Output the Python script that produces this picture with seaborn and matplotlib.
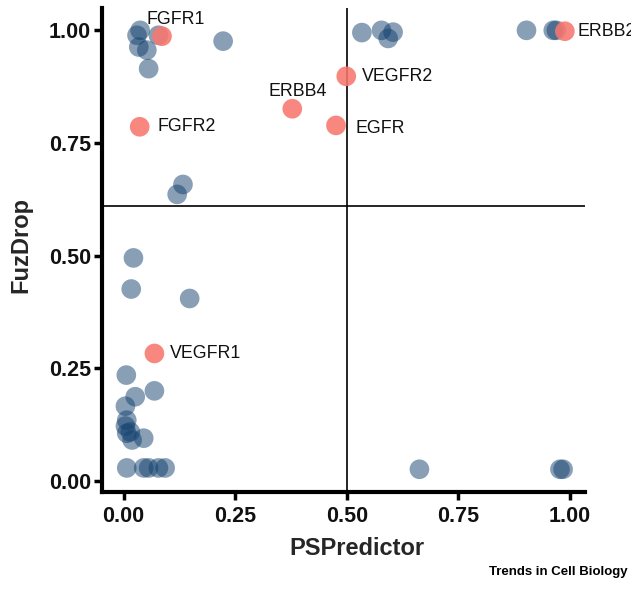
import pandas as pd
import matplotlib.pyplot as plt
import seaborn as sns

# unlabelled proteins (PSPredictor score, FuzDrop score)
blue_x = [0.030, 0.037, 0.034, 0.052, 0.056, 0.078, 0.223,
          0.534, 0.578, 0.604, 0.593, 0.903, 0.963, 0.970,
          0.133, 0.120, 0.022, 0.017, 0.148,
          0.006, 0.069, 0.026, 0.004, 0.007, 0.004, 0.015, 0.007, 0.045, 0.019,
          0.007, 0.045, 0.056, 0.078, 0.093,
          0.663, 0.978, 0.985]
blue_y = [0.989, 1.000, 0.963, 0.956, 0.915, 0.989, 0.976,
          0.995, 1.000, 0.996, 0.982, 1.000, 1.000, 1.000,
          0.658, 0.636, 0.495, 0.426, 0.405,
          0.235, 0.200, 0.187, 0.166, 0.135, 0.122, 0.109, 0.106, 0.095, 0.091,
          0.029, 0.029, 0.029, 0.029, 0.029,
          0.026, 0.026, 0.026]

# labelled receptor tyrosine kinases
red_names = ["FGFR1", "FGFR2", "ERBB4", "VEGFR2", "EGFR", "ERBB2", "VEGFR1"]
red_x = [0.086, 0.036, 0.378, 0.499, 0.476, 0.989, 0.069]
red_y = [0.987, 0.786, 0.826, 0.898, 0.789, 0.998, 0.283]

df = pd.DataFrame({
    "PSPredictor": blue_x + red_x,
    "FuzDrop": blue_y + red_y,
    "group": ["other"] * len(blue_x) + ["RTK"] * len(red_x),
})

sns.set_style("ticks")
plt.rcParams["font.family"] = ["Liberation Sans", "DejaVu Sans"]

fig = plt.figure(figsize=(6.31, 5.89), dpi=100)
ax = fig.add_axes([0.162, 0.165, 0.765, 0.821])

ax.axvline(0.5, color="black", lw=1.2, zorder=1)
ax.axhline(0.611, color="black", lw=1.2, zorder=1)

sns.scatterplot(data=df, x="PSPredictor", y="FuzDrop", hue="group",
                palette={"other": "#12406e", "RTK": "#F8766D"},
                s=200, linewidth=0, legend=False, ax=ax, zorder=3)
# seaborn sets one alpha; set per group
pts = ax.collections[0]
fc = pts.get_facecolors()
fc[:len(blue_x), 3] = 0.5
fc[len(blue_x):, 3] = 0.88
pts.set_facecolors(fc)

# label placement (offset in points, alignment)
offsets = {
    "FGFR1": (10, 6, "center", "bottom"),
    "FGFR2": (13, 0, "left", "center"),
    "ERBB4": (4, 6, "center", "bottom"),
    "VEGFR2": (11, 0, "left", "center"),
    "EGFR": (14, -2, "left", "center"),
    "ERBB2": (9, 0, "left", "center"),
    "VEGFR1": (11, 0, "left", "center"),
}
for name, x, y in zip(red_names, red_x, red_y):
    dx, dy, ha, va = offsets[name]
    ax.annotate(name, (x, y), xytext=(dx, dy), textcoords="offset points",
                ha=ha, va=va, fontsize=12.8, color="#111111", zorder=4)

ax.set_xlim(-0.048, 1.034)
ax.set_ylim(-0.024, 1.049)
ax.set_xticks([0, 0.25, 0.5, 0.75, 1.0])
ax.set_yticks([0, 0.25, 0.5, 0.75, 1.0])
ax.set_xticklabels(["0.00", "0.25", "0.50", "0.75", "1.00"])
ax.set_yticklabels(["0.00", "0.25", "0.50", "0.75", "1.00"])
ax.tick_params(axis="both", width=2.5, length=6, labelsize=15.5, color="black",
               labelcolor="#111111")
ax.tick_params(axis="x", pad=4)
ax.tick_params(axis="y", pad=2)
for lab in ax.get_xticklabels() + ax.get_yticklabels():
    lab.set_fontweight("bold")
for side in ["left", "bottom"]:
    ax.spines[side].set_linewidth(3)
    ax.spines[side].set_color("black")
sns.despine(ax=ax)

ax.set_xlabel("PSPredictor", fontsize=17, fontweight="bold")
ax.set_ylabel("FuzDrop", fontsize=17, fontweight="bold")
ax.xaxis.set_label_coords(0.528, -0.094)
ax.yaxis.set_label_coords(-0.145, 0.51)

fig.text(0.995, 0.018, "Trends in Cell Biology", ha="right", va="bottom",
         fontsize=9.5, fontweight="heavy", color="black")

plt.savefig("out.png", dpi=100)
